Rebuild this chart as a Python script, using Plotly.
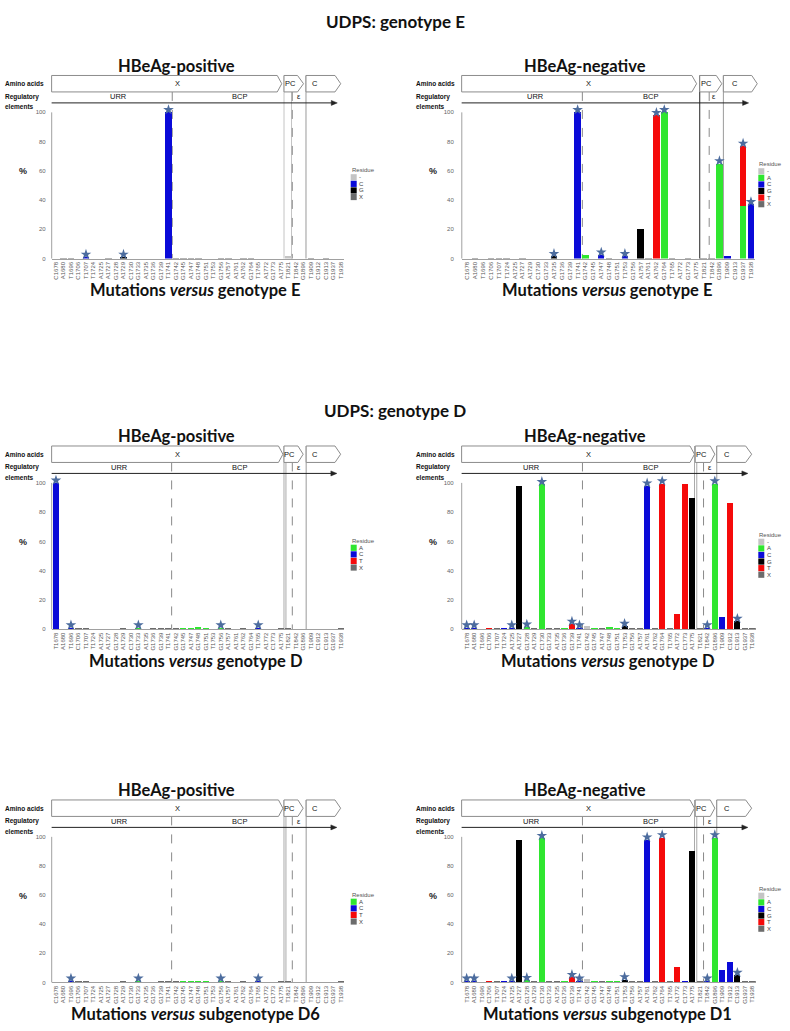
import plotly.graph_objects as go

W, H = 790, 1031

# ---------------------------------------------------------------- data
E_POS_LABELS = ["C1678", "A1680", "T1696", "C1706", "T1707", "T1724", "A1725", "A1727", "G1728", "A1729",
                "C1730", "G1733", "A1735", "G1736", "G1739", "T1741", "G1742", "G1745", "A1747", "G1748",
                "G1751", "T1753", "G1756", "A1757", "A1761", "A1762", "G1764", "T1765", "A1772", "G1773",
                "A1775", "T1821", "T1842", "G1896", "T1909", "C1912", "C1913", "G1937", "T1938"]
E_NEG_LABELS = ["C1678", "A1680", "T1696", "C1706", "T1707", "T1724", "A1725", "A1727", "A1729", "C1730",
                "G1733", "A1735", "G1736", "G1739", "T1741", "G1742", "G1745", "A1747", "G1748", "G1751",
                "T1753", "G1756", "A1757", "A1761", "A1762", "G1764", "T1765", "A1772", "G1773", "A1775",
                "T1821", "T1842", "G1896", "T1909", "C1913", "G1937", "T1938"]
D_LABELS = ["T1678", "A1680", "T1696", "C1706", "T1707", "T1724", "A1725", "A1727", "G1728", "A1729",
            "C1730", "G1733", "A1735", "G1736", "G1739", "T1741", "G1742", "G1745", "A1747", "G1748",
            "G1751", "T1753", "G1756", "A1757", "A1761", "A1762", "G1764", "T1765", "A1772", "C1773",
            "A1775", "T1821", "T1842", "G1896", "T1909", "C1912", "C1913", "G1937", "T1938"]
D6_LABELS = ["C1678", "A1680", "T1696", "C1706", "T1707", "T1724", "A1725", "A1727", "G1728", "A1729",
             "C1730", "G1733", "A1735", "G1736", "G1739", "T1741", "G1742", "G1745", "A1747", "G1748",
             "G1751", "T1753", "G1756", "A1757", "A1761", "A1762", "G1764", "T1765", "A1772", "C1773",
             "A1775", "T1821", "T1842", "G1896", "T1909", "C1912", "C1913", "G1937", "T1938"]
D1_LABELS = ["T1678", "A1680", "T1696", "C1706", "T1707", "T1724", "A1725", "A1727", "G1728", "A1729",
             "C1730", "G1733", "A1735", "G1736", "G1739", "T1741", "G1742", "G1745", "A1747", "G1748",
             "G1751", "T1753", "G1756", "A1757", "A1761", "A1762", "G1764", "T1765", "A1772", "C1773",
             "A1775", "T1821", "T1842", "G1896", "T1909", "T1912", "C1913", "G1937", "T1938"]

# % of reads per residue (only non-zero positions listed)
EPOS_GAP = {"T1821": 1.5}
EPOS_C = {"T1707": 1.0, "T1741": 100.0}
EPOS_G = {"A1729": 1.0}
EPOS_X = {"A1680": 0.3, "T1696": 0.3, "A1727": 0.3, "G1742": 0.3, "G1745": 0.5, "A1747": 0.3,
          "G1748": 0.5, "G1756": 0.3, "A1757": 0.3, "A1762": 0.3, "G1764": 0.3, "T1909": 0.3, "C1913": 0.3}
EPOS_STARS = ["T1707", "A1729", "T1741"]
EPOS_LEGEND = ["-", "C", "G", "X"]

ENEG_A = {"G1742": 2.5, "G1764": 100.0, "G1896": 65.0, "G1937": 36.0}
ENEG_C = {"T1741": 100.0, "A1747": 2.5, "T1753": 1.5, "T1909": 2.0, "T1938": 37.0}
ENEG_G = {"A1735": 1.5, "A1757": 20.0}
ENEG_T = {"A1762": 98.0, "G1937": 41.0}
ENEG_X = {"A1680": 0.5, "C1706": 0.3, "T1707": 0.3, "T1724": 0.3, "A1727": 0.3, "G1748": 0.5,
          "A1761": 0.5, "T1765": 0.5, "G1773": 0.5, "T1821": 0.5, "T1842": 0.3}
ENEG_STARS = ["A1735", "T1741", "A1747", "T1753", "A1762", "G1764", "G1896", "G1937", "T1938"]
ENEG_LEGEND = ["-", "A", "C", "G", "T", "X"]

DPOS_A = {"G1733": 1.0, "G1745": 0.8, "A1747": 0.5, "G1748": 1.2, "G1751": 0.8, "G1756": 1.0}
DPOS_C = {"T1678": 100.0, "T1696": 1.0, "T1765": 1.0}
DPOS_X = {"C1706": 0.5, "T1707": 0.5, "A1729": 0.3, "G1736": 0.3, "G1739": 0.3, "T1741": 0.3,
          "G1742": 0.5, "A1757": 0.5, "A1762": 0.3, "A1775": 0.3, "T1821": 0.3, "T1938": 0.3}
DPOS_STARS = ["T1678", "T1696", "G1733", "G1756", "T1765"]
DPOS_LEGEND = ["A", "C", "T", "X"]

DNEG_GAP = {"G1742": 2.5}
DNEG_A = {"G1728": 1.5, "C1730": 99.0, "G1736": 0.8, "G1745": 0.8, "G1748": 1.2, "G1751": 1.0,
          "G1896": 99.5}
DNEG_C = {"T1678": 1.0, "A1680": 1.0, "T1724": 1.0, "A1725": 1.0, "T1741": 1.0, "A1761": 98.0,
          "T1842": 1.0, "T1909": 8.5}
DNEG_G = {"A1727": 98.0, "T1753": 2.0, "A1775": 90.0, "C1913": 5.5}
DNEG_T = {"C1706": 0.8, "G1739": 3.5, "G1764": 99.5, "A1772": 10.5, "C1773": 99.0, "C1912": 86.0}
DNEG_X = {"T1707": 0.5, "A1729": 0.5, "G1733": 0.3, "A1735": 0.3, "A1747": 0.3, "G1756": 0.3,
          "A1757": 0.5, "A1762": 0.5, "T1765": 0.3, "T1821": 1.0, "G1937": 0.3, "T1938": 0.3}
DNEG_STARS = ["T1678", "A1680", "A1725", "G1728", "C1730", "G1739", "T1741", "T1753", "A1761",
              "G1764", "T1842", "G1896", "C1913"]
DNEG_LEGEND = ["-", "A", "C", "G", "T", "X"]

D6_A = {"G1733": 1.0, "G1745": 0.8, "A1747": 0.3, "G1748": 1.2, "G1751": 0.8, "G1756": 1.0}
D6_C = {"T1696": 1.0, "T1765": 1.0}
D6_X = {"C1706": 0.3, "T1707": 0.3, "A1729": 0.3, "G1739": 0.3, "T1741": 0.3, "G1742": 0.5,
        "A1757": 0.5, "A1762": 0.3, "A1775": 0.3, "T1821": 0.3, "T1938": 0.3}
D6_STARS = ["T1696", "G1733", "G1756", "T1765"]
D6_LEGEND = ["A", "C", "T", "X"]

D1_GAP = {"G1742": 2.5}
D1_A = {"G1728": 1.5, "C1730": 99.0, "G1736": 0.8, "G1745": 0.8, "G1748": 1.2, "G1751": 1.0,
        "G1896": 99.5}
D1_C = {"T1678": 1.0, "A1680": 1.0, "T1724": 1.0, "A1725": 1.0, "T1741": 1.0, "A1761": 98.0,
        "C1773": 1.0, "T1842": 1.0, "T1909": 8.5, "T1912": 14.0}
D1_G = {"A1727": 98.0, "T1753": 2.0, "A1775": 90.0, "C1913": 5.0}
D1_T = {"C1706": 0.8, "G1739": 3.5, "G1764": 99.5, "A1772": 10.5}
D1_X = {"T1707": 0.5, "A1729": 0.5, "G1733": 0.3, "A1735": 0.3, "A1747": 0.3, "G1756": 0.3,
        "A1757": 0.5, "A1762": 0.5, "T1765": 0.3, "T1821": 1.0, "G1937": 0.3, "T1938": 0.3}
D1_STARS = ["T1678", "A1680", "A1725", "G1728", "C1730", "G1739", "T1741", "T1753", "A1761",
            "G1764", "T1842", "G1896", "C1913"]
D1_LEGEND = ["-", "A", "C", "G", "T", "X"]

RESIDUE_ORDER = ["-", "A", "C", "G", "T", "X"]
Y_TICKS = [0, 20, 40, 60, 80, 100]

# ---------------------------------------------------------------- style
COLORS = {"-": "#c4c4c4", "A": "#2fe62f", "C": "#0a0ad8", "G": "#000000", "T": "#f50a0a", "X": "#6c6c6c"}
STAR_COLOR = "#4c6c9e"
TITLE_FONT = "Lato"
SMALL_FONT = "Liberation Sans"
Y_TOP = 106  # axis range headroom so stars above 100 % stay visible

# panel geometry (pixels) and decoration positions (in category units)
PANELS = [
    dict(labels=E_POS_LABELS, series={"-": EPOS_GAP, "C": EPOS_C, "G": EPOS_G, "X": EPOS_X},
         stars=EPOS_STARS, legend=EPOS_LEGEND, title="HBeAg-positive", sub="genotype E",
         L=51.7, R=344.4, T=112.7, B=259.3, lo=-0.57, hi=38.45, side="left",
         xbox=(-0.58, 29.5, 30.1), pcbox=(30.4, 32.2, 33.0), cbox=(33.33, 37.2, 37.96), arrow_end=37.5,
         urr_line=15.5,
         vlines=[(30.4, "solid", "#c4c4c4", "top"), (31.4, "solid", "#c4c4c4", "top"),
                 (31.5, "dash", "#8a8a8a", "boxb"), (33.33, "solid", "#9a9a9a", "top")],
         lab=dict(X=16.2, PC=31.2, C=34.5, URR=8.4, BCP=24.4, eps=32.4)),
    dict(labels=E_NEG_LABELS, series={"A": ENEG_A, "C": ENEG_C, "G": ENEG_G, "T": ENEG_T, "X": ENEG_X},
         stars=ENEG_STARS, legend=ENEG_LEGEND, title="HBeAg-negative", sub="genotype E",
         L=461.8, R=754.9, T=112.7, B=259.3, lo=-0.7, hi=36.5, side="right",
         xbox=(-0.72, 28.5, 29.1), pcbox=(29.5, 31.6, 32.3), cbox=(32.5, 36.1, 36.8), arrow_end=35.7,
         urr_line=14.6,
         vlines=[(29.5, "solid", "#222222", "top"), (30.7, "dash", "#8a8a8a", "boxb"),
                 (32.5, "solid", "#9a9a9a", "top")],
         lab=dict(X=15.4, PC=30.4, C=34.0, URR=8.6, BCP=23.2, eps=31.3)),
    dict(labels=D_LABELS, series={"A": DPOS_A, "C": DPOS_C, "X": DPOS_X},
         stars=DPOS_STARS, legend=DPOS_LEGEND, title="HBeAg-positive", sub="genotype D",
         L=51.7, R=344.0, T=484.3, B=631.0, lo=-0.57, hi=38.45, side="left",
         xbox=(-0.58, 29.7, 30.3), pcbox=(30.44, 32.3, 33.0), cbox=(33.4, 37.25, 38.0), arrow_end=37.5,
         urr_line=15.44,
         vlines=[(30.44, "solid", "#aaaaaa", "top"), (30.7, "solid", "#aaaaaa", "top"),
                 (31.55, "dash", "#8a8a8a", "boxb"), (33.4, "solid", "#9a9a9a", "top")],
         lab=dict(X=16.2, PC=31.2, C=34.6, URR=8.5, BCP=24.5, eps=32.4)),
    dict(labels=D_LABELS, series={"-": DNEG_GAP, "A": DNEG_A, "C": DNEG_C, "G": DNEG_G, "T": DNEG_T, "X": DNEG_X},
         stars=DNEG_STARS, legend=DNEG_LEGEND, title="HBeAg-negative", sub="genotype D",
         L=461.7, R=755.8, T=484.3, B=631.0, lo=-0.66, hi=38.45, side="right",
         xbox=(-0.67, 29.7, 30.3), pcbox=(30.4, 32.4, 33.0), cbox=(33.26, 37.1, 37.9), arrow_end=37.4,
         urr_line=15.4,
         vlines=[(30.3, "solid", "#aaaaaa", "top"), (30.6, "solid", "#aaaaaa", "top"),
                 (31.5, "dash", "#8a8a8a", "boxb"), (33.26, "solid", "#9a9a9a", "top")],
         lab=dict(X=16.2, PC=31.2, C=34.6, URR=8.6, BCP=24.4, eps=32.4)),
    dict(labels=D6_LABELS, series={"A": D6_A, "C": D6_C, "X": D6_X},
         stars=D6_STARS, legend=D6_LEGEND, title="HBeAg-positive", sub="subgenotype D6",
         L=51.7, R=344.0, T=839.3, B=985.3, lo=-0.57, hi=38.45, side="left",
         xbox=(-0.58, 29.7, 30.3), pcbox=(30.44, 32.3, 33.0), cbox=(33.4, 37.25, 38.0), arrow_end=37.5,
         urr_line=15.44,
         vlines=[(30.44, "solid", "#aaaaaa", "top"), (30.7, "solid", "#aaaaaa", "top"),
                 (31.55, "dash", "#8a8a8a", "boxb"), (33.4, "solid", "#9a9a9a", "top")],
         lab=dict(X=16.2, PC=31.2, C=34.6, URR=8.5, BCP=24.5, eps=32.4)),
    dict(labels=D1_LABELS, series={"-": D1_GAP, "A": D1_A, "C": D1_C, "G": D1_G, "T": D1_T, "X": D1_X},
         stars=D1_STARS, legend=D1_LEGEND, title="HBeAg-negative", sub="subgenotype D1",
         L=461.7, R=755.8, T=839.3, B=985.3, lo=-0.66, hi=38.45, side="right",
         xbox=(-0.67, 29.7, 30.3), pcbox=(30.4, 32.4, 33.0), cbox=(33.26, 37.1, 37.9), arrow_end=37.4,
         urr_line=15.4,
         vlines=[(30.3, "solid", "#aaaaaa", "top"), (30.6, "solid", "#aaaaaa", "top"),
                 (31.5, "dash", "#8a8a8a", "boxb"), (33.26, "solid", "#9a9a9a", "top")],
         lab=dict(X=16.2, PC=31.2, C=34.6, URR=8.6, BCP=24.4, eps=32.4)),
]

MAIN_TITLES = [("UDPS: genotype E", 22), ("UDPS: genotype D", 412)]


def X(px):
    return px / W


def Y(py):
    return 1 - py / H


def cat_px(p, idx):
    return p["L"] + (idx - p["lo"]) / (p["hi"] - p["lo"]) * (p["R"] - p["L"])


fig = go.Figure()
shapes = []
annotations = []

for t, y in MAIN_TITLES:
    annotations.append(dict(text=f"<b>{t}</b>", x=0.5, y=Y(y), xref="paper", yref="paper",
                            xanchor="center", yanchor="middle", showarrow=False,
                            font=dict(family=TITLE_FONT, size=17, color="#111")))

for i, p in enumerate(PANELS, start=1):
    xa = "x" if i == 1 else f"x{i}"
    ya = "y" if i == 1 else f"y{i}"
    labels = p["labels"]
    n = len(labels)
    idx = list(range(n))
    totals = [0.0] * n
    for res in RESIDUE_ORDER:
        if res not in p["series"]:
            continue
        vals = [p["series"][res].get(lab, 0.0) for lab in labels]
        totals = [a + b for a, b in zip(totals, vals)]
        fig.add_trace(go.Bar(x=idx, y=vals, width=0.82, marker=dict(color=COLORS[res], line=dict(width=0)),
                             xaxis=xa, yaxis=ya, showlegend=False, name=res))
    sx = [labels.index(s) for s in p["stars"]]
    sy = [totals[k] + 1.8 for k in sx]
    fig.add_trace(go.Scatter(x=sx, y=sy, mode="markers", cliponaxis=False, xaxis=xa, yaxis=ya,
                             marker=dict(symbol="star", size=8, color=STAR_COLOR, line=dict(width=0)),
                             showlegend=False))

    T, B = p["T"], p["B"]
    top_px = B - Y_TOP * (B - T) / 100.0
    xkey = "xaxis" if i == 1 else f"xaxis{i}"
    ykey = "yaxis" if i == 1 else f"yaxis{i}"
    fig.update_layout({
        xkey: dict(domain=[X(p["L"]), X(p["R"])], range=[p["lo"], p["hi"]], anchor=ya,
                   tickmode="array", tickvals=idx, ticktext=labels, tickangle=-90,
                   tickfont=dict(family=SMALL_FONT, size=6, color="#555"), showline=True,
                   linecolor="#a0a0a0", linewidth=1, showgrid=False, zeroline=False, ticks="",
                   fixedrange=True),
        ykey: dict(domain=[Y(B), Y(top_px)], range=[0, Y_TOP], anchor=xa, tickmode="array",
                   tickvals=Y_TICKS, tickfont=dict(family=SMALL_FONT, size=6, color="#666"),
                   showline=False, showgrid=False, zeroline=False,
                   ticks="", ticklabelstandoff=5 if p["side"] == "left" else 7, fixedrange=True),
    })
    # y axis line from 0 to 100 only
    shapes.append(dict(type="line", xref="paper", yref="paper", x0=X(p["L"]), x1=X(p["L"]),
                       y0=Y(B), y1=Y(T), line=dict(color="#a0a0a0", width=1)))

    box_t, box_b = T - 37, T - 20.5
    box_m = (box_t + box_b) / 2
    arrow_y = T - 9.5
    lab_y = T - 15.5

    # vertical region separators
    for (xi, dash, col, start) in p["vlines"]:
        y0 = box_t if start == "top" else box_b
        xp = cat_px(p, xi)
        shapes.append(dict(type="line", xref="paper", yref="paper", x0=X(xp), x1=X(xp), y0=Y(y0), y1=Y(B),
                           line=dict(color=col, width=1, dash=dash), layer="below"))
    xp = cat_px(p, p["urr_line"])
    shapes.append(dict(type="line", xref="paper", yref="paper", x0=X(xp), x1=X(xp), y0=Y(box_b), y1=Y(B),
                       line=dict(color="#8a8a8a", width=1, dash="dash"), layer="below"))

    # gene arrows (pentagons)
    for key in ("xbox", "pcbox", "cbox"):
        xl, xr, xt = (cat_px(p, v) for v in p[key])
        path = (f"M{X(xl)},{Y(box_t)} L{X(xr)},{Y(box_t)} L{X(xt)},{Y(box_m)} "
                f"L{X(xr)},{Y(box_b)} L{X(xl)},{Y(box_b)} Z")
        shapes.append(dict(type="path", xref="paper", yref="paper", path=path,
                           line=dict(color="#8c8c8c", width=1), fillcolor="white", layer="below"))

    # regulatory elements arrow
    a0 = cat_px(p, p["xbox"][0])
    a1 = cat_px(p, p["arrow_end"])
    shapes.append(dict(type="line", xref="paper", yref="paper", x0=X(a0), x1=X(a1 - 2), y0=Y(arrow_y),
                       y1=Y(arrow_y), line=dict(color="#222", width=1)))
    shapes.append(dict(type="path", xref="paper", yref="paper",
                       path=f"M{X(a1 - 6)},{Y(arrow_y - 2.5)} L{X(a1)},{Y(arrow_y)} L{X(a1 - 6)},{Y(arrow_y + 2.5)} Z",
                       line=dict(color="#222", width=0.5), fillcolor="#222"))

    for key, txt in (("X", "X"), ("PC", "PC"), ("C", "C")):
        annotations.append(dict(text=txt, x=X(cat_px(p, p["lab"][key])), y=Y(box_m), xref="paper",
                                yref="paper", showarrow=False, xanchor="center", yanchor="middle",
                                font=dict(family=SMALL_FONT, size=7.5, color="#111")))
    for key, txt in (("URR", "URR"), ("BCP", "BCP"), ("eps", "\u03b5")):
        annotations.append(dict(text=txt, x=X(cat_px(p, p["lab"][key])), y=Y(lab_y), xref="paper",
                                yref="paper", showarrow=False, xanchor="center", yanchor="middle",
                                font=dict(family=SMALL_FONT, size=7.5, color="#111")))

    # row labels on the left
    lx = 3 if p["side"] == "left" else 414
    for txt, yy in (("Amino acids", box_m), ("Regulatory", lab_y), ("elements", T - 5.5)):
        annotations.append(dict(text=f"<b>{txt}</b>", x=X(lx), y=Y(yy), xref="paper", yref="paper",
                                showarrow=False, xanchor="left", yanchor="middle",
                                font=dict(family=SMALL_FONT, size=6.5, color="#111")))
    # % label
    annotations.append(dict(text="<b>%</b>", x=X(22.7 if p["side"] == "left" else 433.3), y=Y(T + 59),
                            xref="paper", yref="paper", showarrow=False, xanchor="center",
                            yanchor="middle", font=dict(family=SMALL_FONT, size=9, color="#222")))

    # panel title and bottom caption
    tx = 176 if p["side"] == "left" else 585
    annotations.append(dict(text=f"<b>{p['title']}</b>", x=X(tx), y=Y(box_t - 10), xref="paper",
                            yref="paper", showarrow=False, xanchor="center", yanchor="middle",
                            font=dict(family=TITLE_FONT, size=16.5, color="#111")))
    cx = 195 if p["side"] == "left" else 607
    annotations.append(dict(text=f"<b>Mutations <i>versus</i> {p['sub']}</b>", x=X(cx), y=Y(B + 32),
                            xref="paper", yref="paper", showarrow=False, xanchor="center",
                            yanchor="middle", font=dict(family=TITLE_FONT, size=16.5, color="#111")))

    # residue legend
    gx = 350.7 if p["side"] == "left" else 758.3
    gy = T + (58 if p["side"] == "left" else 52)
    annotations.append(dict(text="Residue", x=X(gx - 1), y=Y(gy), xref="paper", yref="paper",
                            showarrow=False, xanchor="left", yanchor="middle",
                            font=dict(family=SMALL_FONT, size=6, color="#555")))
    for k, res in enumerate(p["legend"]):
        y0 = gy + 4 + k * 6.6
        shapes.append(dict(type="rect", xref="paper", yref="paper", x0=X(gx), x1=X(gx + 6),
                           y0=Y(y0), y1=Y(y0 + 6.2), fillcolor=COLORS[res], line=dict(width=0)))
        annotations.append(dict(text=res, x=X(gx + 6.5), y=Y(y0 + 3.1), xref="paper", yref="paper",
                                showarrow=False, xanchor="left", yanchor="middle",
                                font=dict(family=SMALL_FONT, size=6, color="#444")))

fig.update_layout(width=W, height=H, margin=dict(l=0, r=0, t=0, b=0), paper_bgcolor="white",
                  plot_bgcolor="rgba(0,0,0,0)", barmode="stack", showlegend=False,
                  shapes=shapes, annotations=annotations)

fig.write_html("out.html", config={"displayModeBar": False},
               post_script="document.body.style.margin='0px';")
